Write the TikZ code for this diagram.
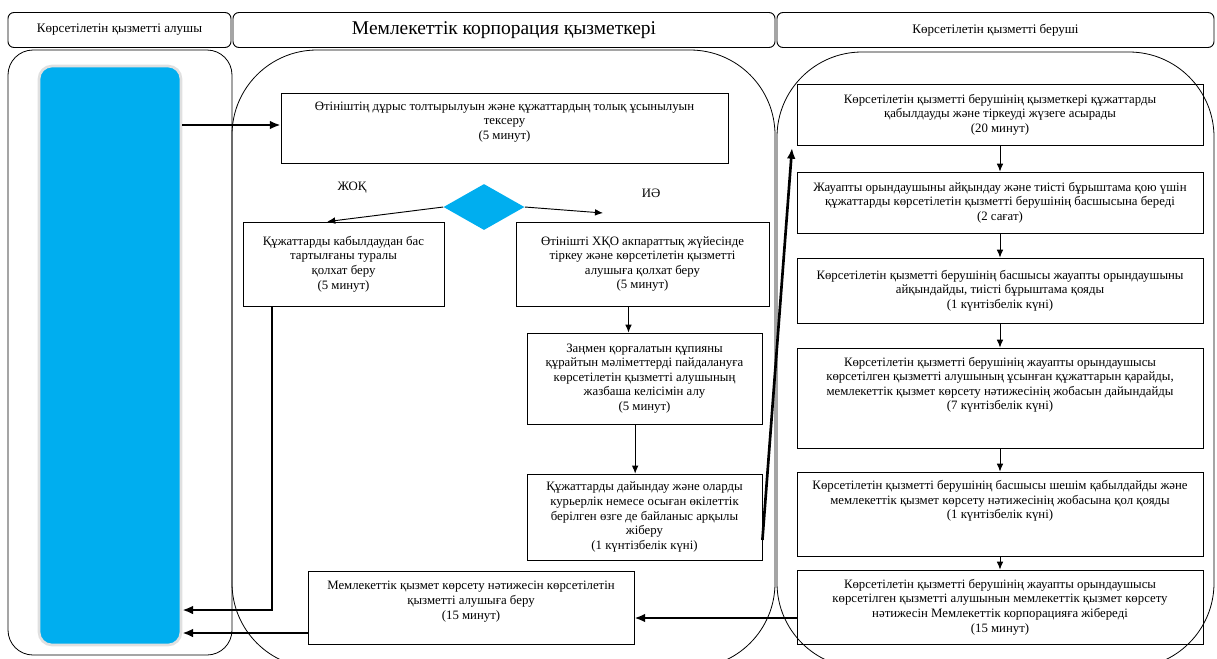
\documentclass[tikz,border=0pt]{standalone}
\usepackage{fontspec}
\setmainfont{Liberation Serif}
\usetikzlibrary{arrows.meta,shapes.geometric,calc}
\definecolor{applblue}{HTML}{00AEEF}

\begin{document}
\begin{tikzpicture}[x=0.75pt, y=-0.75pt,
    font=\fontsize{9.6}{10.9}\selectfont,
    box/.style={rectangle, draw, line width=0.6pt, align=center, inner sep=2pt},
    hdr/.style={rectangle, draw, rounded corners=4.5pt, line width=0.7pt, minimum height=26.25pt, font=\fontsize{9.8}{11}\selectfont},
    lane/.style={draw, line width=0.6pt},
    thk/.style={-{Latex[length=8pt,width=6.5pt]}, line width=2pt},
    thn/.style={-{Latex[length=6pt,width=5pt]}, line width=0.7pt}]
  \clip (0,0) rectangle (1217,658);

  % lanes
  \draw[lane, rounded corners=18.75pt] (8,50) rectangle (232,655);
  \draw[lane, rounded corners=63.75pt] (232,50) rectangle (775,668);
  \draw[lane, rounded corners=63.75pt] (777,52) rectangle (1214,668);

  \path (119.5,30) node[hdr, minimum width=167.25pt](h0){Көрсетілетін қызметті алушы}
    (504,30) node[hdr, minimum width=406.5pt, font=\fontsize{14.6}{16}\selectfont](h1){Мемлекеттік корпорация қызметкері}
    (995.5,30) node[hdr, minimum width=327.75pt](h2){Көрсетілетін қызметті беруші}
    (110,355.5) node[fill=applblue, draw=black!12, line width=2pt, rounded corners=9.75pt, minimum width=106.5pt, minimum height=434.25pt](app){};

  % middle lane
  \path (504.5,128) node[box, minimum width=335.25pt, minimum height=52.5pt](m1){Өтініштің дұрыс толтырылуын және құжаттардың толық ұсынылуын\\тексеру\\(5 минут)\\ \mbox{}}
    (484,207) node[diamond, fill=applblue, inner sep=0pt, minimum width=60.75pt, minimum height=34.5pt](dec){}
    (352,188) node(no){ЖОҚ}
    (651,193) node(yes){ИӘ}
    (343.5,264) node[box, minimum width=150.75pt, minimum height=63pt](m2){Құжаттарды кабылдаудан бас\\тартылғаны туралы\\қолхат беру\\(5 минут)}
    (642.5,264) node[box, minimum width=189.75pt, minimum height=63pt](m3){Өтінішті ХҚО акпараттық жүйесінде\\тіркеу және көрсетілетін қызметті\\алушыға қолхат беру\\(5 минут)}
    (644.5,378.5) node[box, minimum width=176.25pt, minimum height=68.25pt](m4){Заңмен қорғалатын құпияны\\құрайтын мәліметтерді пайдалануға\\көрсетілетін қызметті алушының\\жазбаша келісімін алу\\(5 минут)}
    (644.5,517) node[box, minimum width=176.25pt, minimum height=64.5pt](m5){Құжаттарды дайындау және оларды\\курьерлік немесе осыған өкілеттік\\берілген өзге де байланыс арқылы\\жіберу\\(1 күнтізбелік күні)}
    (471,607.5) node[box, minimum width=244.5pt, minimum height=54.75pt](m6){Мемлекеттік қызмет көрсету нәтижесін көрсетілетін\\қызметті алушыға беру\\(15 минут)\\ \mbox{}};

  % right lane
  \path (1000,114.5) node[box, minimum width=304.5pt, minimum height=45.75pt](r1){Көрсетілетін қызметті берушінің қызметкері құжаттарды\\қабылдауды және тіркеуді жүзеге асырады\\(20 минут)}
    (1000,202.5) node[box, minimum width=304.5pt, minimum height=45.75pt](r2){Жауапты орындаушыны айқындау және тиісті бұрыштама қою үшін\\құжаттарды көрсетілетін қызметті берушінің басшысына береді\\(2 сағат)}
    (1000,290.5) node[box, minimum width=304.5pt, minimum height=48.75pt](r3){Көрсетілетін қызметті берушінің басшысы жауапты орындаушыны\\айқындайды, тиісті бұрыштама қояды\\(1 күнтізбелік күні)}
    (1000,398) node[box, minimum width=304.5pt, minimum height=75pt](r4){Көрсетілетін қызметті берушінің жауапты орындаушысы\\көрсетілген қызметті алушының ұсынған құжаттарын қарайды,\\мемлекеттік қызмет көрсету нәтижесінің жобасын дайындайды\\(7 күнтізбелік күні)\\ \mbox{}\\ \mbox{}}
    (1000,514) node[box, minimum width=304.5pt, minimum height=63pt](r5){Көрсетілетін қызметті берушінің басшысы шешім қабылдайды және\\мемлекеттік қызмет көрсету нәтижесінің жобасына қол қояды\\(1 күнтізбелік күні)\\ \mbox{}\\ \mbox{}}
    (1000,607) node[box, minimum width=304.5pt, minimum height=55.5pt](r6){Көрсетілетін қызметті берушінің жауапты орындаушысы\\көрсетілген қызметті алушынын мемлекеттік қызмет көрсету\\нәтижесін Мемлекеттік корпорацияға жібереді\\(15 минут)};

  \coordinate (c0) at (230,125);
  \coordinate (c1) at (272,610);
  \coordinate (c2) at (290,633);
  \coordinate (c3) at (700,618);
  \coordinate (c4) at (763,540);
  \coordinate (c5) at (792,148);
  \coordinate (c6) at (603,213);

  \draw[thk](app.east |- c0) -- (m1.west |- c0);
  \draw[thn](dec.west) -- (m2.111);
  \draw[thn](dec.east) -- (c6);
  \draw[thn]([xshift=-10.5pt]m3.south) -- ([xshift=-10.5pt]m3.south |- m4.north);
  \draw[thn]([xshift=-7pt]m4.south) -- ([xshift=-7pt]m4.south |- m5.north);
  \draw[thk](m2.south -| c1) -- (c1) -- (app.east |- c1);
  \draw[thk](m6.west |- c2) -- (app.east |- c2);
  \draw[thk](r6.west |- c3) -- (m6.east |- c3);
  \draw[thk](m5.east |- c4) -- (c5);
  \draw[thn](r1) -- (r2);
  \draw[thn](r2) -- (r3);
  \draw[thn](r3) -- (r4);
  \draw[thn](r4) -- (r5);
  \draw[thn](r5) -- (r6);
\end{tikzpicture}
\end{document}
